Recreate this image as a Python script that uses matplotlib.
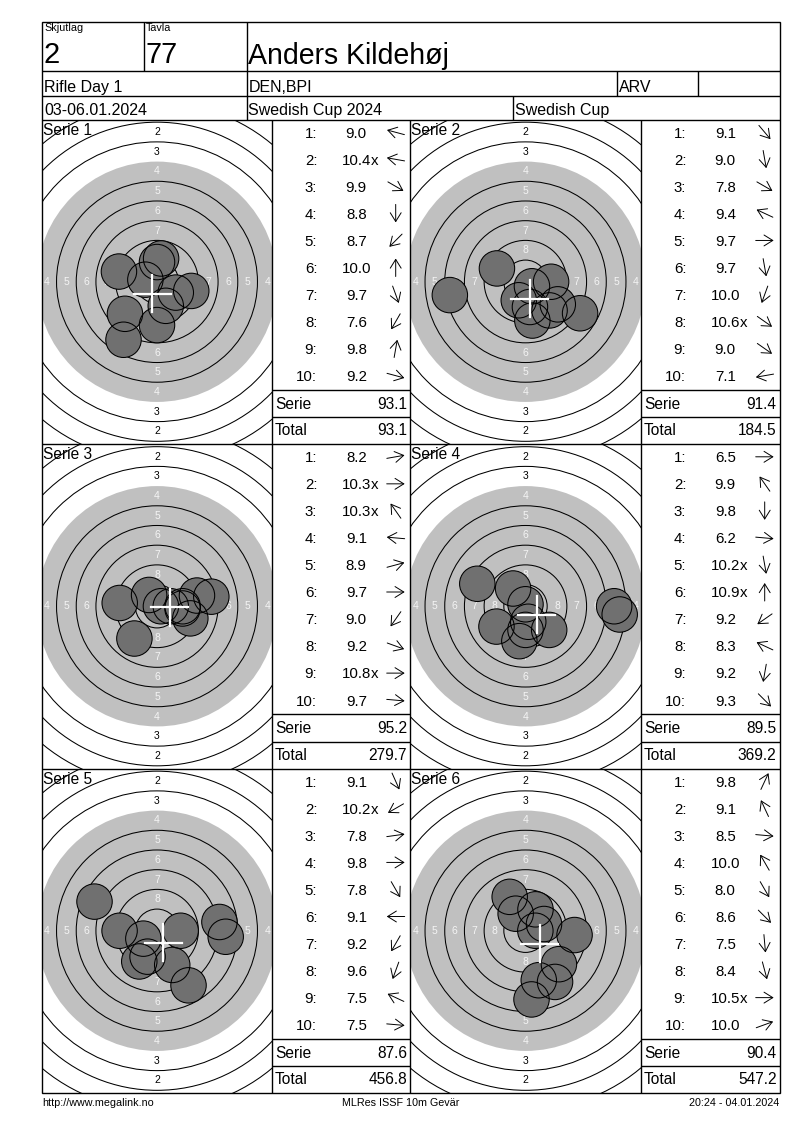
import numpy as np
import matplotlib.pyplot as plt
from matplotlib.patches import Circle, Rectangle

plt.rcParams['font.family'] = ['Liberation Sans', 'DejaVu Sans']

# --- Header info ---
relay = "2"
target_no = "77"
shooter = "Anders Kildehøj"
event = "Rifle Day 1"
club = "DEN,BPI"
shooter_class = "ARV"
dates = "03-06.01.2024"
competition = "Swedish Cup 2024"
cup = "Swedish Cup"
footer_left = "http://www.megalink.no"
footer_mid = "MLRes ISSF 10m Gevär"
footer_right = "20:24 - 04.01.2024"

# --- Shots: score as printed, direction of the arrow (deg, 0 = right, ccw) ---
serie_1 = ["9.0", "10.4x", "9.9", "8.8", "8.7", "10.0", "9.7", "7.6", "9.8", "9.2"]
angle_1 = [165, 170, -30, -90, -135, 90, -70, -120, 80, -15]
serie_2 = ["9.1", "9.0", "7.8", "9.4", "9.7", "9.7", "10.0", "10.6x", "9.0", "7.1"]
angle_2 = [-50, -80, -30, 155, 0, -80, -110, -35, -35, 190]
serie_3 = ["8.2", "10.3x", "10.3x", "9.1", "8.9", "9.7", "9.0", "9.2", "10.8x", "9.7"]
angle_3 = [10, 0, 125, 175, 15, 0, -125, -20, 0, -5]
serie_4 = ["6.5", "9.9", "9.8", "6.2", "10.2x", "10.9x", "9.2", "8.3", "9.2", "9.3"]
angle_4 = [0, 125, -90, -5, -80, 90, -145, 155, -100, -45]
serie_5 = ["9.1", "10.2x", "7.8", "9.8", "7.8", "9.1", "9.2", "9.6", "7.5", "7.5"]
angle_5 = [-66, -150, 8, 0, -60, 180, -120, -110, 155, -5]
serie_6 = ["9.8", "9.1", "8.5", "10.0", "8.0", "8.6", "7.5", "8.4", "10.5x", "10.0"]
angle_6 = [65, 115, -5, 120, -60, -45, -85, -75, 0, 20]

series = [serie_1, serie_2, serie_3, serie_4, serie_5, serie_6]
angles = [angle_1, angle_2, angle_3, angle_4, angle_5, angle_6]

# --- ISSF 10m air rifle target (mm) ---
ring_nums = np.arange(1, 11)
ring_radius = 22.75 - 2.5 * (ring_nums - 1)   # outer radius of each ring
black_ring = 4                                  # aiming mark starts at ring 4
pellet_r = 2.25
label_rings = [2, 3, 4, 5, 6, 7, 8]

# --- Page layout (pixels) ---
W, H = 800, 1130
PX_MM = 7.88
L, R = 42, 779.5
row_lines = [21.7, 70.7, 95.7, 119.5]
block_top = [119.5, 444, 768.5]
block_h = 324.5
target_cells = [(42, 272), (410, 641)]
score_cells = [(272, 410), (641, 779.5)]

fig = plt.figure(figsize=(W / 100, H / 100), dpi=100)
ax = fig.add_axes([0, 0, 1, 1], zorder=2)
ax.set_xlim(0, W)
ax.set_ylim(H, 0)
ax.axis('off')


def put(x, yc, s, px, ha='left', color='black'):
    # yc = vertical centre of the capitals
    ax.text(x, yc + 0.358 * px, s, fontsize=px * 0.72, ha=ha, va='baseline',
            color=color)


def line(x0, y0, x1, y1, lw=1.0):
    ax.plot([x0, x1], [y0, y1], color='black', lw=lw, solid_capstyle='butt')


# --- Header grid ---
ax.add_patch(Rectangle((L, row_lines[0]), R - L, block_top[2] + block_h - row_lines[0],
                       fill=False, ec='black', lw=1.0))
for y in row_lines[1:] + block_top[1:]:
    line(L, y, R, y)
for x in [143.5, 246.5]:
    line(x, row_lines[0], x, row_lines[1])
for x in [246.5, 616.5, 697.5]:
    line(x, row_lines[1], x, row_lines[2])
for x in [246.5, 513]:
    line(x, row_lines[2], x, row_lines[3])
for x in [272, 410, 641]:
    line(x, block_top[0], x, block_top[2] + block_h)

put(44, 27.3, "Skjutlag", 10.8)
put(146, 27.3, "Tavla", 10.8)
put(43.5, 52.8, relay, 29)
put(145.5, 52.8, target_no, 29)
put(248.5, 53.5, shooter, 28.5)
put(44, 86.5, event, 16)
put(248.5, 86.5, club, 16)
put(618.5, 86.5, shooter_class, 16)
put(44, 109.5, dates, 16)
put(248.5, 109.5, competition, 16)
put(515, 109.5, cup, 16)

put(L, 1102.5, footer_left, 10.8)
put(401, 1102.5, footer_mid, 10.8, ha='center')
put(R, 1102.5, footer_right, 10.8, ha='right')

# --- Series ---
total = 0.0
for i, (shots, ang) in enumerate(zip(series, angles)):
    top = block_top[i // 2]
    tx0, tx1 = target_cells[i % 2]
    sx0, sx1 = score_cells[i % 2]
    values = np.array([float(s.rstrip('x')) for s in shots])
    theta = np.radians(ang)
    dist = 2.5 * (11 - values)
    shot_x = dist * np.cos(theta)
    shot_y = dist * np.sin(theta)

    # target drawn in mm
    w, h = tx1 - tx0, block_h
    tax = fig.add_axes([tx0 / W, 1 - (top + h) / H, w / W, h / H], zorder=1)
    tax.set_xlim(-w / 2 / PX_MM, w / 2 / PX_MM)
    tax.set_ylim(-h / 2 / PX_MM, h / 2 / PX_MM)
    tax.axis('off')
    tax.add_patch(Circle((0, 0), ring_radius[black_ring - 1], fc='#c0c0c0', ec='none', zorder=1))
    for n, r in zip(ring_nums, ring_radius):
        if n != black_ring:
            tax.add_patch(Circle((0, 0), r, fill=False, ec='black', lw=0.75, zorder=2))
    for n in label_rings:
        r = ring_radius[n - 1] - 1.25
        col = 'black' if n < black_ring else '#f4f4f4'
        for dx, dy in [(0, 1), (0, -1), (1, 0), (-1, 0)]:
            tax.text(dx * r, dy * r, str(n), fontsize=7.5, ha='center', va='center',
                     color=col, zorder=2, clip_on=True)
    for x, y in zip(shot_x, shot_y):
        tax.add_patch(Circle((x, y), pellet_r, fc='#707070', ec='none', zorder=3))
    for x, y in zip(shot_x, shot_y):
        tax.add_patch(Circle((x, y), pellet_r, fill=False, ec='black', lw=0.75, zorder=4))
    mx, my = shot_x.mean(), shot_y.mean()
    tax.plot([mx - 2.35, mx + 2.35], [my, my], color='white', lw=1.6, zorder=5)
    tax.plot([mx, mx], [my - 2.35, my + 2.35], color='white', lw=1.6, zorder=5)
    put(tx0 + 1, top + 9.7, f"Serie {i + 1}", 15.5)

    # score list
    for k, (s, a) in enumerate(zip(shots, ang)):
        y = top + 12.8 + 27.04 * k
        put(sx0 + 45.3, y, f"{k + 1}:", 15, ha='right')
        put(sx0 + 84.3, y, s.rstrip('x'), 15, ha='center')
        if s.endswith('x'):
            put(sx0 + 99.3, y, 'x', 15)
        cx, c_len = sx0 + 123.7, 9
        ra = np.radians(a)
        ax.annotate('', xy=(cx + c_len * np.cos(ra), y - c_len * np.sin(ra)),
                    xytext=(cx - c_len * np.cos(ra), y + c_len * np.sin(ra)),
                    arrowprops=dict(arrowstyle='->,head_length=0.45,head_width=0.28',
                                    lw=0.7, color='black', shrinkA=0, shrinkB=0,
                                    mutation_scale=14))

    serie_sum = values.sum()
    total += serie_sum
    line(sx0, top + 270.2, sx1, top + 270.2)
    line(sx0, top + 297.5, sx1, top + 297.5)
    put(sx0 + 3, top + 283.5, "Serie", 15.5)
    put(sx1 - 3, top + 283.5, f"{serie_sum:.1f}", 15.5, ha='right')
    put(sx0 + 3, top + 310.2, "Total", 15.5)
    put(sx1 - 3, top + 310.2, f"{total:.1f}", 15.5, ha='right')

fig.savefig("out.png", dpi=100, facecolor='white')
